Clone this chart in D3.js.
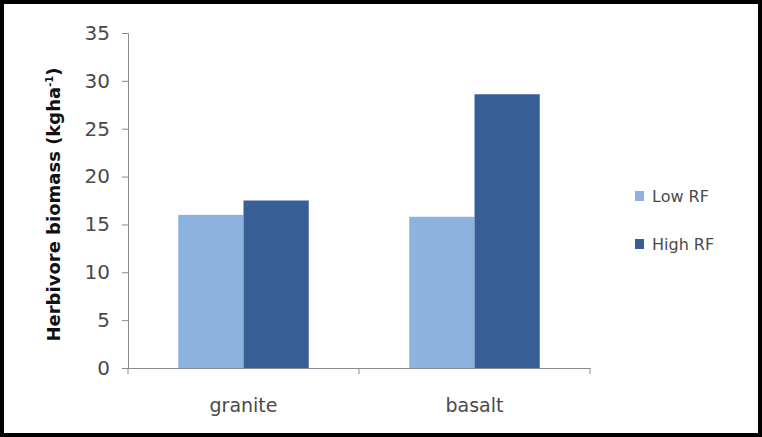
<!DOCTYPE html>
<html>
<head>
<meta charset="utf-8">
<script src="https://cdn.jsdelivr.net/npm/d3@7"></script>
<style>
  body { margin: 0; background: #fff; }
  svg { display: block; font-family: "DejaVu Sans", sans-serif; }
</style>
</head>
<body>
<div id="chart"></div>
<script>
// data
let categories = ['granite', 'basalt'];
let seriesNames = ['Low RF', 'High RF'];
let lowRF = [16.0, 15.8];
let highRF = [17.5, 28.6];
let yTicks = [0, 5, 10, 15, 20, 25, 30, 35];

let colors = ['#8cb2e0', '#385f95'];
let axisColor = '#8a8a8a';
let fontFam = '"DejaVu Sans", sans-serif';

let W = 762, H = 437;
let margin = { top: 33, right: 172, bottom: 69, left: 128 };

let rows = categories.map((c, i) => ({ cat: c, vals: [lowRF[i], highRF[i]] }));

let svg = d3.select('#chart').append('svg')
  .attr('width', W).attr('height', H);

// outer frame
svg.append('rect')
  .attr('x', 2).attr('y', 2).attr('width', W - 4).attr('height', H - 4)
  .attr('fill', '#fff').attr('stroke', '#000').attr('stroke-width', 4);

let x = d3.scaleBand()
  .domain(categories)
  .range([margin.left, W - margin.right]);

let x1 = d3.scaleBand()
  .domain(seriesNames)
  .range([0, x.bandwidth()])
  .paddingOuter(0.77)
  .paddingInner(0);

let y = d3.scaleLinear()
  .domain([0, 35])
  .range([H - margin.bottom, margin.top]);

// bars
svg.append('g').attr('class', 'bars')
  .selectAll('g')
  .data(rows)
  .join('g')
  .attr('transform', (d) => `translate(${x(d.cat)},0)`)
  .selectAll('rect')
  .data((d) => d.vals.map((v, j) => ({ key: seriesNames[j], v: v, j: j })))
  .join('rect')
  .attr('x', (d) => x1(d.key))
  .attr('y', (d) => y(d.v))
  .attr('width', x1.bandwidth())
  .attr('height', (d) => y(0) - y(d.v))
  .attr('fill', (d) => colors[d.j]);

// y axis
let yAxis = svg.append('g')
  .attr('transform', `translate(${margin.left},0)`)
  .call(d3.axisLeft(y).tickValues(yTicks).tickSize(6).tickPadding(12))
  .attr('font-family', fontFam);
yAxis.selectAll('text')
  .attr('fill', '#4a4a4a')
  .style('font-size', '20px');

// x axis: ticks at category boundaries
let xAxis = svg.append('g')
  .attr('transform', `translate(0,${y(0)})`)
  .call(d3.axisBottom(x).tickSize(0).tickPadding(31))
  .attr('font-family', fontFam);
xAxis.selectAll('text')
  .attr('fill', '#4a4a4a')
  .style('font-size', '19px');
let bounds = [x.range()[0]].concat(categories.map((c) => x(c) + x.bandwidth()));
xAxis.selectAll('.bound')
  .data(bounds)
  .join('line')
  .attr('class', 'bound')
  .attr('x1', (d) => d).attr('x2', (d) => d)
  .attr('y1', 0).attr('y2', 6);

svg.selectAll('.domain, .tick line, .bound')
  .attr('stroke', axisColor);

// y axis label
let yLab = svg.append('text')
  .attr('transform', `translate(60,${(y(0) + y(35)) / 2 + 4}) rotate(-90)`)
  .attr('text-anchor', 'middle')
  .attr('font-weight', 'bold')
  .attr('fill', '#111')
  .style('font-size', '18px');
yLab.append('tspan').text('Herbivore biomass (kgha');
yLab.append('tspan').attr('dy', -7).style('font-size', '10px').text('-1');
yLab.append('tspan').attr('dy', 7).text(')');

// legend
let legend = svg.append('g')
  .selectAll('g')
  .data(seriesNames)
  .join('g')
  .attr('transform', (d, i) => `translate(635,${196 + i * 48})`);
legend.append('rect')
  .attr('x', 0).attr('y', -5)
  .attr('width', 9).attr('height', 10)
  .attr('fill', (d, i) => colors[i]);
legend.append('text')
  .attr('x', 17).attr('dy', '0.35em')
  .attr('fill', '#4a4a4a')
  .style('font-size', '16px')
  .text((d) => d);
</script>
</body>
</html>
